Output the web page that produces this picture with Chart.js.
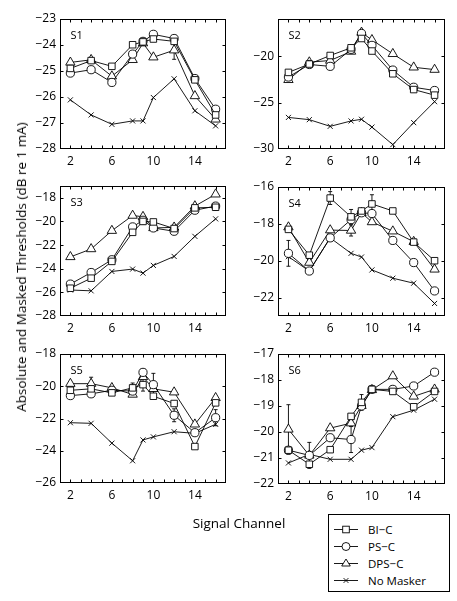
<!DOCTYPE html>
<html>
<head>
<meta charset="utf-8">
<script src="https://cdn.jsdelivr.net/npm/chart.js@4"></script>
<style>
  html, body { margin:0; padding:0; background:#fff; }
  body { width:457px; height:601px; position:relative; overflow:hidden; font-family:'Open Sans', sans-serif; color:#000; }
  canvas.panel { position:absolute; }
  #ytitle { position:absolute; left:21px; top:267px; transform:translate(-50%,-50%) rotate(-90deg); white-space:nowrap; font-size:13.5px; }
  #xtitle { position:absolute; left:239px; top:523px; transform:translate(-50%,-50%); white-space:nowrap; font-size:13.5px; }
  #legend { position:absolute; left:328px; top:514px; width:120px; border:1px solid #000; background:#fff; padding-top:6px; box-sizing:content-box; height:70px; }
  .row { height:17px; display:flex; align-items:center; font-size:11.5px; }
  .row svg { margin-left:5px; margin-right:10px; }
</style>
</head>
<body>
<canvas class="panel" id="c1" width="240" height="175" style="left:0;top:0"></canvas>
<canvas class="panel" id="c2" width="217" height="175" style="left:240px;top:0"></canvas>
<canvas class="panel" id="c3" width="240" height="175" style="left:0;top:167px"></canvas>
<canvas class="panel" id="c4" width="217" height="174" style="left:240px;top:168px"></canvas>
<canvas class="panel" id="c5" width="240" height="174" style="left:0;top:335px"></canvas>
<canvas class="panel" id="c6" width="217" height="175" style="left:240px;top:335px"></canvas>
<div id="ytitle">Absolute and Masked Thresholds (dB re 1 mA)</div>
<div id="xtitle">Signal Channel</div>
<div id="legend"></div>
<script>
// ---------- data ----------
const xs = [2, 4, 6, 8, 9, 10, 12, 14, 16];
const xTickLabels = [2, 6, 10, 14];
const seriesNames = ['BI\u2212C', 'PS\u2212C', 'DPS\u2212C', 'No Masker'];
const panelNames = ['S1', 'S2', 'S3', 'S4', 'S5', 'S6'];

const s1BIC = [-24.9, -24.6, -24.82, -23.99, -23.88, -23.77, -23.86, -25.34, -26.69];
const s1PSC = [-25.08, -24.95, -25.44, -24.35, -23.86, -23.59, -23.75, -25.29, -26.47];
const s1DPSC = [-24.67, -24.57, -25.2, -24.57, -23.93, -24.47, -24.2, -25.96, -26.86];
const s1NoMasker = [-26.11, -26.69, -27.05, -26.92, -26.92, -26.02, -25.3, -26.53, -27.11];
const s1Ticks = [-28, -27, -26, -25, -24, -23];

const s2BIC = [-21.75, -20.85, -19.93, -19.1, -18.1, -19.45, -21.9, -23.6, -24.2];
const s2PSC = [-22.25, -20.9, -21.1, -19.27, -17.56, -18.84, -21.5, -23.35, -23.7];
const s2DPSC = [-22.55, -20.65, -20.47, -19.5, -17.45, -18.25, -19.75, -21.2, -21.45];
const s2NoMasker = [-26.6, -26.84, -27.56, -26.98, -26.8, -27.64, -29.53, -27.16, -24.9];
const s2Ticks = [-30, -25, -20];

const s3BIC = [-25.65, -24.8, -23.38, -20.92, -20.0, -20.04, -20.6, -18.85, -18.8];
const s3PSC = [-25.3, -24.32, -23.24, -20.46, -19.9, -20.55, -20.83, -19.05, -18.7];
const s3DPSC = [-23.0, -22.33, -20.78, -19.5, -19.6, -20.55, -20.5, -18.7, -17.7];
const s3NoMasker = [-25.8, -25.87, -24.23, -24.03, -24.37, -23.72, -22.96, -21.26, -19.78];
const s3Ticks = [-28, -26, -24, -22, -20, -18];

const s4BIC = [-18.3, -19.7, -16.6, -17.62, -17.3, -16.92, -17.3, -18.99, -20.0];
const s4PSC = [-19.6, -20.56, -18.76, -17.77, -17.4, -17.44, -18.9, -20.1, -21.64];
const s4DPSC = [-18.18, -20.1, -18.34, -18.36, -17.4, -17.9, -18.4, -18.97, -20.47];
const s4NoMasker = [-19.78, -20.56, -18.76, -19.6, -19.8, -20.5, -20.95, -21.22, -22.32];
const s4Ticks = [-22, -20, -18, -16];

const s5BIC = [-20.25, -20.16, -20.41, -20.1, -19.9, -20.62, -21.07, -23.74, -21.03];
const s5PSC = [-20.58, -20.47, -20.25, -20.3, -19.14, -19.9, -21.8, -22.88, -21.95];
const s5DPSC = [-19.84, -19.84, -20.1, -20.51, -19.42, -20.16, -20.37, -22.36, -20.72];
const s5NoMasker = [-22.26, -22.3, -23.53, -24.62, -23.33, -23.14, -22.82, -22.92, -22.36];
const s5Ticks = [-26, -24, -22, -20, -18];

const s6BIC = [-20.7, -21.24, -20.68, -19.4, -18.86, -18.36, -18.44, -19.03, -18.44];
const s6PSC = [-20.7, -20.9, -20.22, -20.29, -19.0, -18.36, -18.36, -18.23, -17.7];
const s6DPSC = [-19.9, -20.9, -19.85, -19.66, -18.99, -18.38, -17.85, -18.63, -18.36];
const s6NoMasker = [-21.19, -20.86, -21.05, -21.05, -20.7, -20.6, -19.41, -19.16, -18.74];
const s6Ticks = [-22, -21, -20, -19, -18, -17];

// error bar half-widths (dB), aligned with xs
const s1DPSCErr = [0, 0, 0, 0, 0, 0, 0.35, 0, 0];
const s4PSCErr = [0.7, 0, 0, 0, 0, 0, 0, 0, 0];
const s4BICErr = [0, 0, 0.35, 0.4, 0, 0.5, 0, 0, 0];
const s4DPSCErr = [0, 0, 0, 0.3, 0, 0, 0, 0, 0];
const s5BICErr = [0, 0, 0, 0.3, 0.4, 0, 0, 0, 0];
const s5PSCErr = [0, 0, 0, 0, 0, 0.7, 0.4, 0, 0.5];
const s5DPSCErr = [0, 0.4, 0, 0, 0, 0, 0, 0, 0];
const s6PSCErr = [0, 0.5, 0, 0.5, 0, 0, 0, 0, 0];
const s6DPSCErr = [0.95, 0, 0, 0, 0, 0, 0, 0, 0];
const s6BICErr = [0, 0, 0, 0, 0.3, 0, 0, 0, 0];

// ---------- styles ----------
const pointStyles = ['rect', 'circle', 'triangle', 'crossRot'];
const pointRadii = [4.6, 4.1, 5.4, 3.6];

const panels = [
  { id:'c1', series:[s1BIC, s1PSC, s1DPSC, s1NoMasker], errs:[null, null, s1DPSCErr, null], min:-28, max:-23, ticks:s1Ticks, yw:60, pr:14 },
  { id:'c2', series:[s2BIC, s2PSC, s2DPSC, s2NoMasker], errs:[null, null, null, null], min:-30, max:-16, ticks:s2Ticks, yw:38, pr:12 },
  { id:'c3', series:[s3BIC, s3PSC, s3DPSC, s3NoMasker], errs:[null, null, null, null], min:-28, max:-17, ticks:s3Ticks, yw:60, pr:14 },
  { id:'c4', series:[s4BIC, s4PSC, s4DPSC, s4NoMasker], errs:[s4BICErr, s4PSCErr, s4DPSCErr, null], min:-23, max:-16, ticks:s4Ticks, yw:38, pr:12 },
  { id:'c5', series:[s5BIC, s5PSC, s5DPSC, s5NoMasker], errs:[s5BICErr, s5PSCErr, s5DPSCErr, null], min:-26, max:-18, ticks:s5Ticks, yw:60, pr:14 },
  { id:'c6', series:[s6BIC, s6PSC, s6DPSC, s6NoMasker], errs:[s6BICErr, s6PSCErr, s6DPSCErr, null], min:-22, max:-17, ticks:s6Ticks, yw:38, pr:12 }
];

const FONT = "'Open Sans', sans-serif";
const fmt = v => String(v).replace('-', '\u2212');

const errorBarPlugin = {
  id: 'errbars',
  beforeDatasetsDraw(chart) {
    const { ctx, scales: { x, y } } = chart;
    ctx.save();
    ctx.strokeStyle = '#000';
    ctx.lineWidth = 0.9;
    chart.data.datasets.forEach(ds => {
      if (!ds.errorBars) return;
      ds.errorBars.forEach((e, j) => {
        if (!e) return;
        const p = ds.data[j];
        const px = x.getPixelForValue(p.x);
        const t = y.getPixelForValue(p.y + e), b = y.getPixelForValue(p.y - e);
        ctx.beginPath();
        ctx.moveTo(px, t); ctx.lineTo(px, b);
        ctx.moveTo(px - 2, t); ctx.lineTo(px + 2, t);
        ctx.moveTo(px - 2, b); ctx.lineTo(px + 2, b);
        ctx.stroke();
      });
    });
    ctx.restore();
  }
};

const framePlugin = {
  id: 'frame',
  afterDraw(chart, args, opts) {
    const { ctx, chartArea: a, scales: { x, y } } = chart;
    ctx.save();
    ctx.strokeStyle = '#000';
    ctx.lineWidth = 1;
    const L = Math.round(a.left) + 0.5, R = Math.round(a.right) - 0.5;
    const T = Math.round(a.top) + 0.5, B = Math.round(a.bottom) - 0.5;
    ctx.strokeRect(L, T, R - L, B - T);
    ctx.beginPath();
    x.ticks.forEach(t => {
      if (t.value <= x.min || t.value >= x.max) return;
      const px = Math.round(x.getPixelForValue(t.value)) + 0.5;
      ctx.moveTo(px, B); ctx.lineTo(px, B - 3);
      ctx.moveTo(px, T); ctx.lineTo(px, T + 3);
    });
    y.ticks.forEach(t => {
      if (t.value <= y.min || t.value >= y.max) return;
      const py = Math.round(y.getPixelForValue(t.value)) + 0.5;
      ctx.moveTo(L, py); ctx.lineTo(L + 3, py);
      ctx.moveTo(R, py); ctx.lineTo(R - 3, py);
    });
    ctx.stroke();
    ctx.fillStyle = '#000';
    ctx.font = "11px " + FONT;
    ctx.textBaseline = 'alphabetic';
    ctx.fillText(opts.label, a.left + 10.5, a.top + 19.5);
    ctx.restore();
  }
};

panels.forEach((p, k) => {
  const datasets = p.series.map((vals, i) => ({
    label: seriesNames[i],
    data: xs.map((xv, j) => ({ x: xv, y: vals[j] })),
    errorBars: p.errs[i],
    borderColor: '#000',
    borderWidth: 0.9,
    pointStyle: pointStyles[i],
    pointRadius: pointRadii[i],
    pointBackgroundColor: '#fff',
    pointBorderColor: '#000',
    pointBorderWidth: 0.9,
    fill: false,
    tension: 0,
    clip: false
  }));
  new Chart(document.getElementById(p.id), {
    type: 'line',
    data: { datasets },
    options: {
      responsive: false,
      animation: false,
      devicePixelRatio: 1,
      layout: { padding: { left: 0, right: p.pr, top: 19, bottom: 0 } },
      plugins: { legend: { display: false }, tooltip: { enabled: false }, frame: { label: panelNames[k] } },
      scales: {
        x: {
          type: 'linear', min: 1, max: 17,
          afterFit: s => { s.height = 26; },
          grid: { display: false, drawTicks: false },
          border: { display: false },
          ticks: {
            stepSize: 1, autoSkip: false, maxRotation: 0, padding: 5,
            color: '#000', font: { family: FONT, size: 12 },
            callback: v => xTickLabels.includes(v) ? String(v) : ''
          }
        },
        y: {
          type: 'linear', min: p.min, max: p.max,
          afterFit: s => { s.width = p.yw; },
          afterBuildTicks: s => { s.ticks = p.ticks.map(v => ({ value: v })); },
          grid: { display: false, drawTicks: false },
          border: { display: false },
          ticks: {
            autoSkip: false, padding: 4,
            color: '#000', font: { family: FONT, size: 12 },
            callback: v => fmt(v)
          }
        }
      }
    },
    plugins: [errorBarPlugin, framePlugin]
  });
});

// ---------- legend ----------
function markerSvg(style) {
  const c = 'stroke="#000" stroke-width="0.9"';
  let m = '';
  if (style === 'rect') m = `<rect x="8.7" y="3.2" width="6.6" height="6.6" fill="#fff" ${c}/>`;
  else if (style === 'circle') m = `<circle cx="12" cy="6.5" r="4" fill="#fff" ${c}/>`;
  else if (style === 'triangle') m = `<polygon points="12,2 16.3,9 7.7,9" fill="#fff" ${c}/>`;
  else m = `<path d="M9.6,4.1 L14.4,8.9 M14.4,4.1 L9.6,8.9" ${c}/>`;
  return `<svg width="24" height="13" viewBox="0 0 24 13"><line x1="0" y1="6.5" x2="24" y2="6.5" ${c}/>${m}</svg>`;
}
const leg = document.getElementById('legend');
seriesNames.forEach((n, i) => {
  const r = document.createElement('div');
  r.className = 'row';
  r.innerHTML = markerSvg(pointStyles[i]) + '<span>' + n + '</span>';
  leg.appendChild(r);
});
</script>
</body>
</html>
